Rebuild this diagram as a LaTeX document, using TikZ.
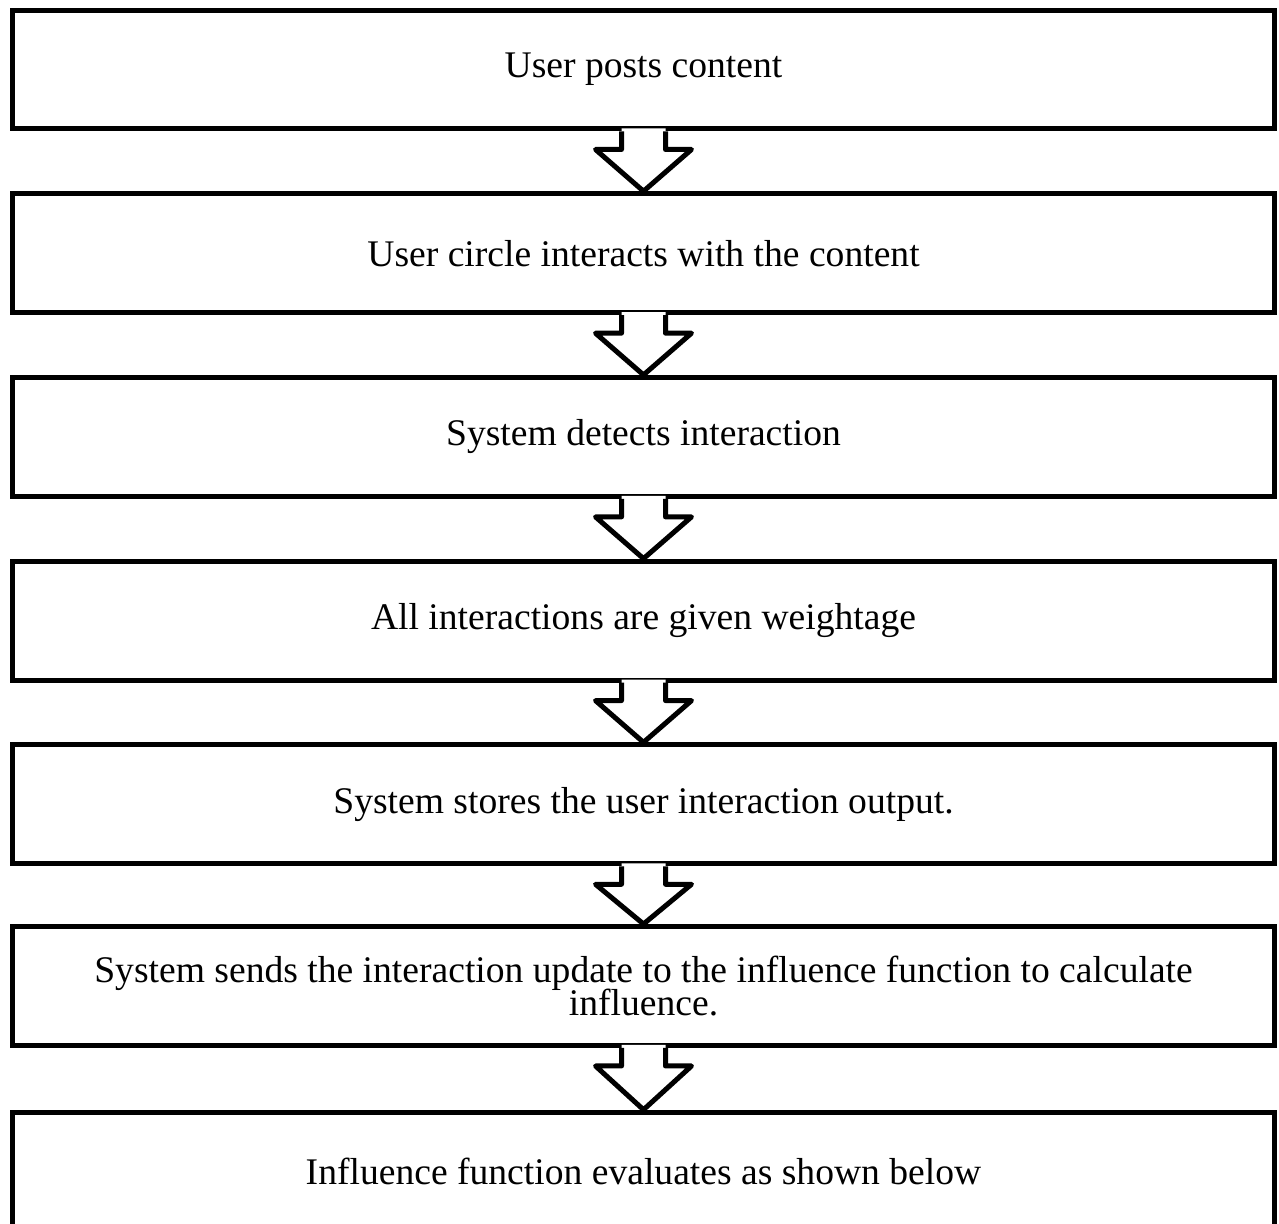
\documentclass[tikz,border=0pt]{standalone}
\usepackage{fontspec}
\setmainfont{Liberation Serif}
\usepackage{tikz}
\usetikzlibrary{positioning, calc}

% hollow block arrow between two steps
\newcommand{\flowarrow}[2]{%
  \fill[white] ($(#1.south)+(-22,-3)$) -- ++(0,21) -- ++(-26,0) -- (#2.north)
    -- ($(#1.south)+(48,18)$) -- ++(-26,0) -- ++(0,-21) -- cycle;
  \draw[arrowline] ($(#1.south)+(-22,0)$) -- ++(0,18) -- ++(-26,0) -- (#2.north)
    -- ($(#1.south)+(48,18)$) -- ++(-26,0) -- ++(0,-18);
}

\begin{document}
\begin{tikzpicture}[x=0.02cm,y=-0.02cm,
  stepbox/.style={draw,line width=0.1cm,minimum width=25.26cm,minimum height=2.38cm,
    inner sep=0pt,align=center,font=\fontsize{21.4}{15.5}\selectfont},
  arrowline/.style={line width=0.1cm,line join=round}]
  \useasboundingbox (0,0) rectangle (1279,1224);

  \node[stepbox] (s1) at (643.5,69.5) {User posts content};
  \node[stepbox] (s2) at (643.5,253.2) {User circle interacts with the content};
  \node[stepbox] (s3) at (643.5,436.9) {System detects interaction};
  \node[stepbox] (s4) at (643.5,620.6) {All interactions are given weightage};
  \node[stepbox] (s5) at (643.5,804.3) {System stores the user interaction output.};
  \node[stepbox] (s6) at (643.5,986) {System sends the interaction update to the influence function to calculate\\[-2.4pt]influence.};
  \node[stepbox] (s7) at (643.5,1171.7) {Influence function evaluates as shown below};

  \flowarrow{s1}{s2}
  \flowarrow{s2}{s3}
  \flowarrow{s3}{s4}
  \flowarrow{s4}{s5}
  \flowarrow{s5}{s6}
  \flowarrow{s6}{s7}
\end{tikzpicture}
\end{document}
